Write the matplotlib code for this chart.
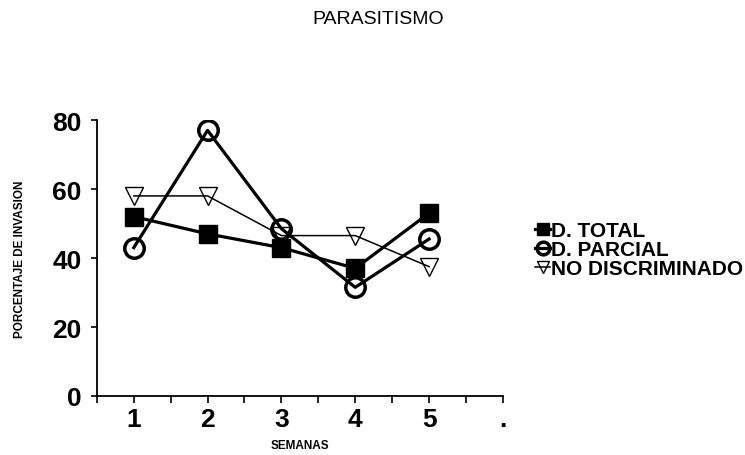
import matplotlib.pyplot as plt
from matplotlib.ticker import MultipleLocator

plt.rcParams['font.family'] = ['Liberation Sans', 'DejaVu Sans']

# data
sesiones = [1, 2, 3, 4, 5]
x_labels = ['1', '2', '3', '4', '5', '.']
d_total = [52, 47, 43, 37, 53]
d_parcial = [43, 77, 48.5, 31.5, 45.5]
no_discriminado = [58, 58, 46.5, 46.5, 37.5]

fig = plt.figure(figsize=(7.45, 4.56), dpi=100)
ax = fig.add_axes([0.130, 0.1294, 0.545, 0.6052])

ax.plot(sesiones, no_discriminado, color='black', lw=1.1, marker='v',
        markersize=13, markerfacecolor='none', markeredgewidth=1.0,
        label='NO DISCRIMINADO', zorder=2)
ax.plot(sesiones, d_parcial, color='black', lw=2.3, marker='o',
        markersize=14, markerfacecolor='none', markeredgewidth=2.5,
        label='D. PARCIAL', zorder=3)
ax.plot(sesiones, d_total, color='black', lw=2.3, marker='s',
        markersize=13, markerfacecolor='black',
        label='D. TOTAL', zorder=4)

ax.set_xlim(0.5, 6)
ax.set_ylim(0, 80)
ax.set_xticks(range(1, 7))
ax.set_xticklabels(x_labels)
ax.xaxis.set_minor_locator(MultipleLocator(0.5))
ax.set_yticks([0, 20, 40, 60, 80])

for s in ['top', 'right']:
    ax.spines[s].set_visible(False)
for s in ['left', 'bottom']:
    ax.spines[s].set_linewidth(1.3)

ax.tick_params(axis='both', which='both', direction='out', width=1.2, labelsize=19)
ax.tick_params(axis='x', which='both', length=5, pad=3)
ax.tick_params(axis='y', length=4, pad=7)
for lbl in ax.get_xticklabels() + ax.get_yticklabels():
    lbl.set_fontweight('bold')

ax.set_xlabel('SEMANAS', fontsize=8.5, fontweight='bold', labelpad=6)
ax.set_ylabel('PORCENTAJE DE INVASION', fontsize=8.5, fontweight='bold', labelpad=19)

fig.text(0.508, 0.958, 'PARASITISMO', ha='center', va='center', fontsize=14)

handles, labels = ax.get_legend_handles_labels()
order = [2, 1, 0]
leg = fig.legend([handles[i] for i in order], [labels[i] for i in order],
                 loc='center left', bbox_to_anchor=(0.702, 0.45),
                 frameon=False, fontsize=15, handlelength=0.7,
                 handletextpad=0.05, labelspacing=0.0, markerscale=0.65,
                 borderpad=0.1)
for t in leg.get_texts():
    t.set_fontweight('bold')

fig.savefig('out.png', dpi=100)
